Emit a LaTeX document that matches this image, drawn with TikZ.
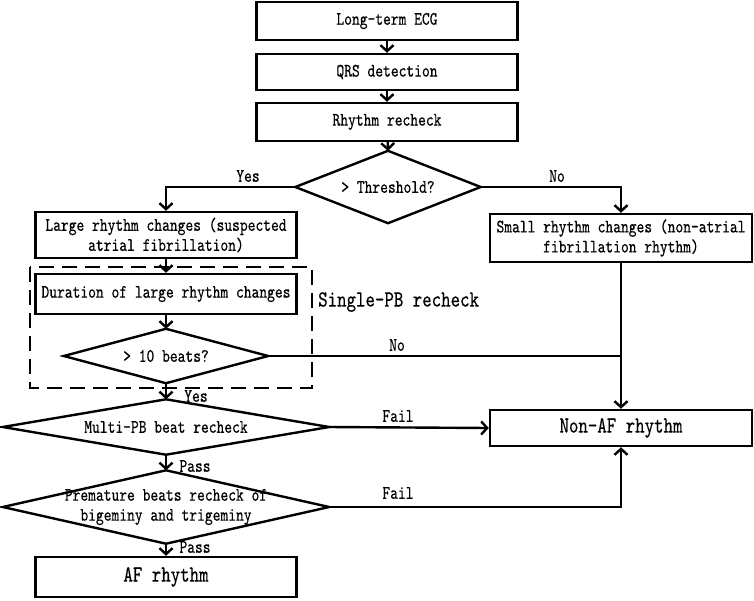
\documentclass[tikz,border=0pt]{standalone}
\usepackage{fontspec}
\setmainfont{lmmono10-regular.otf}[FakeStretch=0.78,FakeBold=0.4]
\usetikzlibrary{arrows.meta}
\begin{document}
\begin{tikzpicture}[x=1pt,y=-1pt,
  line width=2.4pt,
  font=\fontsize{19}{20}\selectfont,
  box/.style={draw, rectangle, inner sep=0pt, align=center, minimum width=261pt},
  dia/.style={draw=none, rectangle, inner sep=0pt, align=center},
  arr/.style={-{Straight Barb[length=6pt,width=13pt]}},
  lab/.style={inner sep=0pt},
  big/.style={font=\fontsize{23.1}{25}\selectfont}]
\useasboundingbox (0,0) rectangle (754,600);

\node[box, minimum height=38pt] (ecg) at (387,21) {Long-term ECG};
\node[box, minimum height=36pt] (qrs) at (387,72) {QRS detection};
\node[box, minimum height=38pt] (rr) at (387,122) {Rhythm recheck};
\node[dia, minimum width=183pt, minimum height=70pt] (thr) at (388,187) {> Threshold?};
\node[box, minimum height=46pt] (large) at (166,235) {Large rhythm changes (suspected\\atrial fibrillation)};
\node[box, minimum width=262pt, minimum height=48pt] (small) at (621,238) {Small rhythm changes (non-atrial\\fibrillation rhythm)};
\node[box, minimum height=40pt] (dur) at (166,294) {Duration of large rhythm changes};
\node[dia, minimum width=202pt, minimum height=52pt] (ten) at (166,356) {> 10 beats?};
\node[dia, minimum width=324pt, minimum height=53pt] (multi) at (166,427) {Multi-PB beat recheck};
\node[dia, minimum width=324pt, minimum height=71pt] (prem) at (166,507) {Premature beats recheck of\\bigeminy and trigeminy};
\node[box, minimum height=40pt, big] (af) at (166,577) {AF rhythm};
\node[box, minimum width=262pt, minimum height=36pt, big] (nonaf) at (621,428) {Non-AF rhythm};

\foreach \n in {thr,ten,multi,prem}
  \draw (\n.west) -- (\n.north) -- (\n.east) -- (\n.south) -- cycle;

\draw[dashed, dash pattern=on 15pt off 8pt] (30,267) rectangle (312,388);
\node[lab, anchor=west, big] (single) at (317,302) {Single-PB recheck};

\draw[arr] (ecg) -- (qrs);
\draw[arr] (qrs) -- (rr);
\draw[arr] (rr) -- (thr.north);
\draw[arr] (thr.west) -| (large.north);
\draw[arr] (thr.east) -| (small.north);
\draw[arr] (large) -- (dur);
\draw[arr] (dur) -- (ten.north);
\coordinate (join) at (ten.east -| small.south);
\draw (ten.east) -- (join);
\draw[arr] (small) -- (nonaf);
\draw[arr] (ten.south) -- (multi.north);
\draw[arr] (multi.east) -- (nonaf.west);
\draw[arr] (multi.south) -- (prem.north);
\draw[arr] (prem.east) -| (nonaf.south);
\draw[arr] (prem.south) -- (af.north);

\node[lab] (l1) at (248,176) {Yes};
\node[lab] (l2) at (557,176) {No};
\node[lab] (l3) at (397,345) {No};
\node[lab] (l4) at (196,396) {Yes};
\node[lab] (l5) at (398,416) {Fail};
\node[lab] (l6) at (195,466) {Pass};
\node[lab] (l7) at (398,493) {Fail};
\node[lab] (l8) at (195,547) {Pass};
\end{tikzpicture}
\end{document}
